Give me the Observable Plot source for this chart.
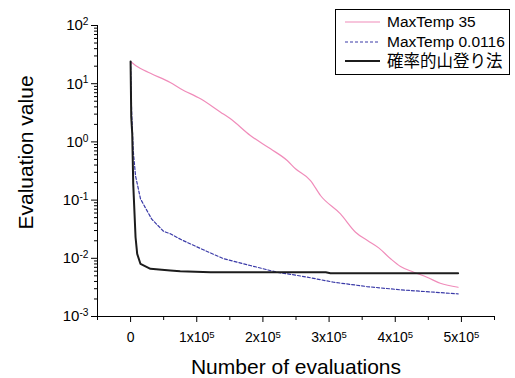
<!DOCTYPE html>
<html>
<head>
<meta charset="utf-8">
<script src="https://cdn.jsdelivr.net/npm/d3@7"></script>
<script src="https://cdn.jsdelivr.net/npm/@observablehq/plot@0.6"></script>
<style>
  html, body { margin: 0; padding: 0; background: #fff; }
  #wrap { position: relative; width: 515px; height: 378px; }
  #legend { position: absolute; left: 0; top: 0; }
</style>
</head>
<body>
<div id="wrap"></div>
<script>
// ---- data ----
const seriesNames = ["MaxTemp 35", "MaxTemp 0.0116", "確率的山登り法"];

const pinkX = [0, 7500, 30000, 60000, 75500, 105700, 136000, 151000, 181000, 211500, 236700, 249200, 271900, 287000, 317200, 340000, 358000, 375000, 393000, 408000, 428000, 448000, 468000, 495000];
const pinkY = [24, 20.6, 15.1, 10.5, 8.2, 5.5, 3.24, 2.49, 1.29, 0.76, 0.479, 0.345, 0.217, 0.12, 0.058, 0.0281, 0.0202, 0.0151, 0.0098, 0.00723, 0.00577, 0.00473, 0.00373, 0.00318];

const blueX = [0, 1500, 4000, 7500, 15000, 22000, 32000, 50000, 60000, 78000, 110000, 141000, 181000, 221000, 262000, 307000, 357000, 408000, 458000, 495000];
const blueY = [24, 3.47, 0.71, 0.26, 0.105, 0.075, 0.047, 0.029, 0.0264, 0.0205, 0.014, 0.0098, 0.00752, 0.00577, 0.00486, 0.00388, 0.00327, 0.00287, 0.00262, 0.00245];

const blackX = [0, 1000, 2500, 4000, 7500, 10000, 15000, 30000, 60000, 75000, 121000, 257000, 295000, 302000, 495000];
const blackY = [24, 2.65, 1.38, 0.19, 0.023, 0.0119, 0.0080, 0.00659, 0.00617, 0.0060, 0.00577, 0.00577, 0.00575, 0.00555, 0.00555];

const yMajor = [1e-3, 1e-2, 1e-1, 1e0, 1e1, 1e2];
const yMinor = [];
for (const d of yMajor.slice(0, -1)) for (let k = 2; k <= 9; k++) yMinor.push(d * k);
const xMajor = [0, 100000, 200000, 300000, 400000, 500000];
const xMinor = [-50000, 50000, 150000, 250000, 350000, 450000, 550000];

const xTitle = "Number of evaluations";
const yTitle = "Evaluation value";

// ---- build ----
const pink = pinkX.map((x, i) => ({x, y: pinkY[i]}));
const blue = blueX.map((x, i) => ({x, y: blueY[i]}));
const black = blackX.map((x, i) => ({x, y: blackY[i]}));

const colors = ["#f08cba", "#3a3aa8", "#1c1c1c"];
const font = '"Liberation Sans", Arial, "Noto Sans CJK JP", sans-serif';

const chart = Plot.plot({
  width: 515,
  height: 378,
  marginTop: 25,
  marginBottom: 62,
  marginLeft: 97,
  marginRight: 21,
  style: {fontFamily: font, fontSize: "14px", color: "#000", background: "#fff", overflow: "visible"},
  x: {domain: [-50000, 550000], label: null},
  y: {type: "log", domain: [1e-3, 1e2], label: null},
  marks: [
    Plot.line(pink, {x: "x", y: "y", stroke: colors[0], strokeWidth: 1.2, curve: "monotone-x"}),
    Plot.line(blue, {x: "x", y: "y", stroke: colors[1], strokeWidth: 1.2, strokeDasharray: "3,2"}),
    Plot.line(black, {x: "x", y: "y", stroke: colors[2], strokeWidth: 2}),
    Plot.ruleX([-50000], {stroke: "#000", strokeWidth: 1}),
    Plot.ruleY([1e-3], {stroke: "#000", strokeWidth: 1}),
    Plot.axisY(yMajor, {tickSize: 6, tickPadding: 3, fontSize: 15, label: null,
      tickFormat: d => "10^" + Math.round(Math.log10(d))}),
    Plot.axisY(yMinor, {tickSize: 3, label: null, tickFormat: () => ""}),
    Plot.axisX(xMajor, {tickSize: 6, tickPadding: 10, fontSize: 14, label: null,
      tickFormat: d => d === 0 ? "0" : (d / 1e5) + "x10^5"}),
    Plot.axisX(xMinor, {tickSize: 4, label: null, tickFormat: () => ""}),
    Plot.text([xTitle], {frameAnchor: "bottom", dy: 51, text: d => d, fontSize: 21, textAnchor: "middle", lineAnchor: "middle"}),
    Plot.text([yTitle], {frameAnchor: "top-left", dx: -71, dy: 127, rotate: -90, text: d => d, fontSize: 21, textAnchor: "middle", lineAnchor: "middle"})
  ]
});

// superscripts
d3.select(chart).selectAll("text").filter(function() { return this.textContent.includes("^"); })
  .each(function() {
    const [base, exp] = this.textContent.split("^");
    const t = d3.select(this);
    t.text(base);
    t.append("tspan").attr("dy", "-0.5em").attr("font-size", "0.68em").text(exp);
  });

document.getElementById("wrap").appendChild(chart);

// legend overlay
const leg = d3.select("#wrap").append("svg")
  .attr("id", "legend").attr("width", 515).attr("height", 378)
  .style("font-family", font);
leg.append("rect").attr("x", 335.5).attr("y", 9.5).attr("width", 174).attr("height", 65)
  .attr("fill", "#fff").attr("stroke", "#000").attr("stroke-width", 1);
const rowsY = [22, 42, 61];
const dashes = [null, "3,2", null];
const widths = [1.2, 1.2, 2];
seriesNames.forEach((name, i) => {
  leg.append("line").attr("x1", 345).attr("x2", 380).attr("y1", rowsY[i]).attr("y2", rowsY[i])
    .attr("stroke", colors[i]).attr("stroke-width", widths[i])
    .attr("stroke-dasharray", dashes[i]);
  leg.append("text").attr("x", 387).attr("y", rowsY[i]).attr("dy", "0.35em")
    .attr("font-size", i === 2 ? 16.5 : 15.5).text(name);
});
</script>
</body>
</html>
